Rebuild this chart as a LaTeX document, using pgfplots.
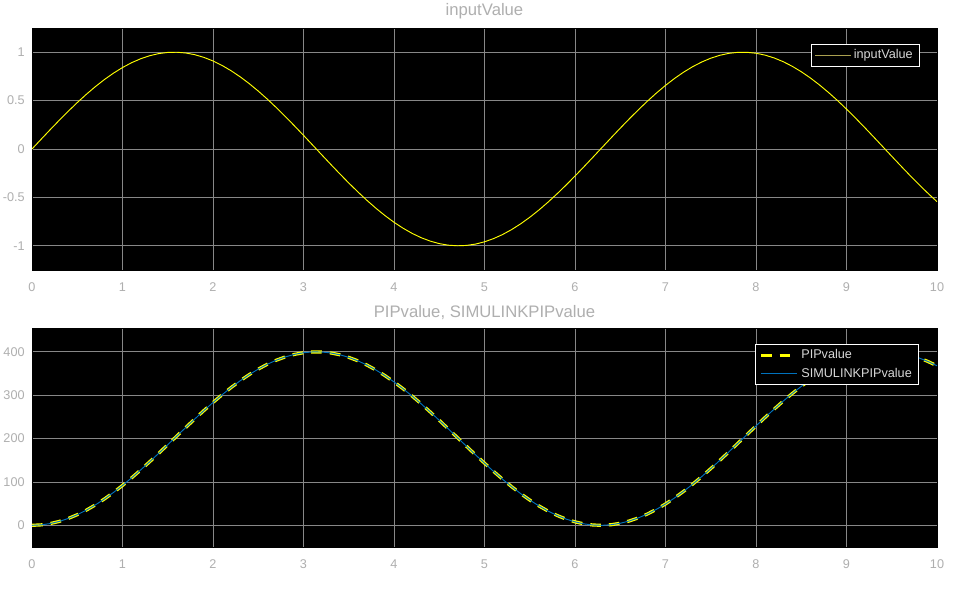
\documentclass[border=0pt]{standalone}
\usepackage{pgfplots}
\usepackage{pgfplotstable}
\pgfplotsset{compat=1.18}
\usepackage{fontspec}
\setmainfont{Liberation Sans}

\definecolor{ticktxt}{RGB}{175,175,175}
\definecolor{gridc}{RGB}{135,135,135}
\definecolor{legtxt}{RGB}{215,215,215}
\definecolor{scopeyellow}{RGB}{255,255,0}
\definecolor{scopeblue}{RGB}{0,114,189}
\definecolor{legolive}{RGB}{170,160,80}

% t, inputValue, PIPvalue (= SIMULINKPIPvalue)
\pgfplotstableread{
t u p
0.0 0.0000 0.0
0.1 0.0998 1.0
0.2 0.1987 4.0
0.3 0.2955 8.9
0.4 0.3894 15.8
0.5 0.4794 24.5
0.6 0.5646 34.9
0.7 0.6442 47.0
0.8 0.7174 60.7
0.9 0.7833 75.7
1.0 0.8415 91.9
1.1 0.8912 109.3
1.2 0.9320 127.5
1.3 0.9636 146.5
1.4 0.9854 166.0
1.5 0.9975 185.9
1.6 0.9996 205.8
1.7 0.9917 225.8
1.8 0.9738 245.4
1.9 0.9463 264.7
2.0 0.9093 283.2
2.1 0.8632 301.0
2.2 0.8085 317.7
2.3 0.7457 333.3
2.4 0.6755 347.5
2.5 0.5985 360.2
2.6 0.5155 371.4
2.7 0.4274 380.8
2.8 0.3350 388.4
2.9 0.2392 394.2
3.0 0.1411 398.0
3.1 0.0416 399.8
3.2 -0.0584 399.7
3.3 -0.1577 397.5
3.4 -0.2555 393.4
3.5 -0.3508 387.3
3.6 -0.4425 379.4
3.7 -0.5298 369.6
3.8 -0.6119 358.2
3.9 -0.6878 345.2
4.0 -0.7568 330.7
4.1 -0.8183 315.0
4.2 -0.8716 298.1
4.3 -0.9162 280.2
4.4 -0.9516 261.5
4.5 -0.9775 242.2
4.6 -0.9937 222.4
4.7 -0.9999 202.5
4.8 -0.9962 182.5
4.9 -0.9825 162.7
5.0 -0.9589 143.3
5.1 -0.9258 124.4
5.2 -0.8835 106.3
5.3 -0.8323 89.1
5.4 -0.7728 73.1
5.5 -0.7055 58.3
5.6 -0.6313 44.9
5.7 -0.5507 33.1
5.8 -0.4646 22.9
5.9 -0.3739 14.5
6.0 -0.2794 8.0
6.1 -0.1822 3.3
6.2 -0.0831 0.7
6.3 0.0168 0.0
6.4 0.1165 1.4
6.5 0.2151 4.7
6.6 0.3115 10.0
6.7 0.4048 17.1
6.8 0.4941 26.1
6.9 0.5784 36.9
7.0 0.6570 49.2
7.1 0.7290 63.1
7.2 0.7937 78.3
7.3 0.8504 94.8
7.4 0.8987 112.3
7.5 0.9380 130.7
7.6 0.9679 149.7
7.7 0.9882 169.3
7.8 0.9985 189.2
7.9 0.9989 209.2
8.0 0.9894 229.1
8.1 0.9699 248.7
8.2 0.9407 267.8
8.3 0.9022 286.3
8.4 0.8546 303.9
8.5 0.7985 320.4
8.6 0.7344 335.7
8.7 0.6630 349.7
8.8 0.5849 362.2
8.9 0.5010 373.1
9.0 0.4121 382.2
9.1 0.3191 389.5
9.2 0.2229 395.0
9.3 0.1245 398.4
9.4 0.0248 399.9
9.5 -0.0752 399.4
9.6 -0.1743 396.9
9.7 -0.2718 392.5
9.8 -0.3665 386.1
9.9 -0.4575 377.8
10.0 -0.5440 367.8
}\scopedata

\pgfplotsset{
  scopeaxis/.style={
    scale only axis,
    width=678.75pt,
    xmin=0, xmax=10,
    xtick={0,1,...,10},
    axis background/.style={fill=black},
    axis line style={draw=black},
    grid=major,
    major grid style={draw=gridc, line width=0.6pt},
    major tick length=0pt,
    tick label style={font=\fontsize{9.5}{11}\selectfont, text=ticktxt},
    /pgf/number format/assume math mode=true,
    title style={font=\fontsize{12.5}{14}\selectfont, text=ticktxt, yshift=-3pt},
    legend style={fill=black, draw=white, line width=0.6pt,
      font=\fontsize{9.5}{11}\selectfont,
      legend cell align=left, inner xsep=3pt, inner ysep=2pt, row sep=1.5pt},
    yticklabel style={xshift=-2pt},
    xticklabel style={yshift=-6pt},
  }
}

\begin{document}
\begin{tikzpicture}
\fill[white] (0,0) rectangle (717.75pt,450pt);
\path[use as bounding box] (0,0) rectangle (717.75pt,450pt);

\begin{axis}[scopeaxis,
  at={(24pt,247.5pt)}, anchor=south west,
  height=181.5pt,
  ymin=-1.25, ymax=1.25,
  ytick={-1,-0.5,0,0.5,1},
  yticklabels={-1,-0.5,0,0.5,1},
  title={inputValue},
  legend style={at={(0.981,0.934)}, anchor=north east},
]
\addplot[scopeyellow, line width=0.7pt,
  legend image code/.code={\fill[fill=legolive, draw=none] (0pt,-0.45pt) rectangle (27pt,0.45pt);}]
  table[x=t, y=u] {\scopedata};
\addlegendentry{\textcolor{legtxt}{inputValue}}
\end{axis}

\begin{axis}[scopeaxis,
  at={(24pt,39.75pt)}, anchor=south west,
  height=164.25pt,
  ymin=-50, ymax=455,
  ytick={0,100,200,300,400},
  title={PIPvalue, SIMULINKPIPvalue},
  legend style={at={(0.980,0.927)}, anchor=north east},
]
\addplot[scopeyellow, line width=2.4pt, dash pattern=on 8pt off 6pt,
  legend image code/.code={\draw[draw=scopeyellow, line width=2.4pt, dash pattern=on 8pt off 6pt] (0pt,0pt) -- (27pt,0pt);}]
  table[x=t, y=p] {\scopedata};
\addlegendentry{\textcolor{legtxt}{PIPvalue}}
\addplot[scopeblue, line width=0.7pt,
  legend image code/.code={\fill[fill=scopeblue, draw=none] (0pt,-0.5pt) rectangle (27pt,0.5pt);}]
  table[x=t, y=p] {\scopedata};
\addlegendentry{\textcolor{legtxt}{SIMULINKPIPvalue}}
\end{axis}
\end{tikzpicture}
\end{document}
